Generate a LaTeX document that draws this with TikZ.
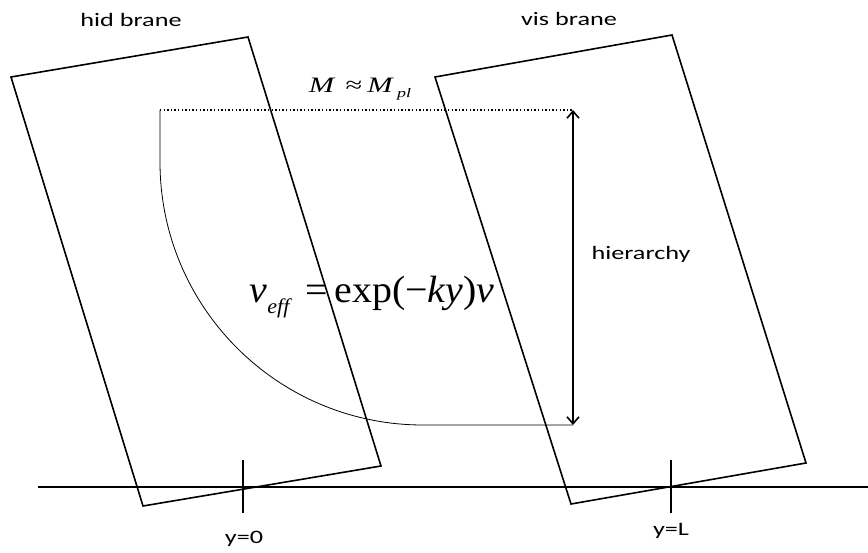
\documentclass[tikz,border=0pt]{standalone}
\usepackage{fontspec}
\usepackage{graphicx}
\setmainfont{Carlito}
\newfontfamily\eqfont{Liberation Serif}
\usetikzlibrary{arrows.meta}
\newcommand{\wide}[2][1.38]{\scalebox{#1}[1]{#2}}

\begin{document}
\begin{tikzpicture}[x=1pt,y=-1pt,>={Straight Barb[length=7pt,width=12pt]}]
  \tikzset{brane/.style={draw,line width=1.6pt,line join=miter},
    lbl/.style={font=\fontsize{19}{21}\selectfont}}
  \useasboundingbox (0,0) rectangle (868,553);

  % the two branes
  \draw[brane] (11,77) -- (248,37) -- (381,466) -- (143,506) -- cycle;
  \draw[brane] (435,77) -- (672,35) -- (806,463) -- (571,504) -- cycle;
  \node[lbl] (hid) at (131,20) {\wide{hid brane}};
  \node[lbl] (vis) at (569,19) {\wide{vis brane}};

  % extra dimension
  \coordinate (ystart) at (38,487);
  \coordinate (yend) at (868,487);
  \draw[line width=1.6pt] (ystart) -- (yend);
  \coordinate (y0) at (243,487);
  \coordinate (yL) at (671,487);
  \draw[line width=1.6pt] (y0) ++(0,-27) -- ++(0,53);
  \draw[line width=1.6pt] (yL) ++(0,-27) -- ++(0,53);
  \node[lbl] (l0) at (244,539) {\wide{y=0}};
  \node[lbl] (lL) at (671,531) {\wide{y=L}};

  % warp factor
  \coordinate (pl) at (160,110);
  \coordinate (top) at (573,110);
  \coordinate (bot) at (573,425);
  \draw[line width=1.4pt,dash pattern=on 1.4pt off 2.2pt] (pl) -- (top);
  \draw[line width=0.8pt] (pl) -- (160,162) arc[start angle=180,end angle=90,radius=263] -- (bot);
  \draw[<->,line width=1.6pt] (top) -- (bot);
  \node[lbl] (hier) at (641,254) {\wide{hierarchy}};

  \node[font=\fontsize{22}{24}\eqfont] (mpl) at (360,89)
    {\wide{\textit{M}\,\,≈\,\textit{M}\raisebox{-0.5ex}{\fontsize{13}{14}\selectfont\,\textit{pl}}}};
  \node[font=\fontsize{38}{42}\eqfont] (veff) at (372,297)
    {\wide[1.05]{\textit{v}\raisebox{-0.6ex}{\fontsize{21}{23}\selectfont\textit{eff}}\,\,=\,exp(−\textit{ky})\textit{v}}};
\end{tikzpicture}
\end{document}
